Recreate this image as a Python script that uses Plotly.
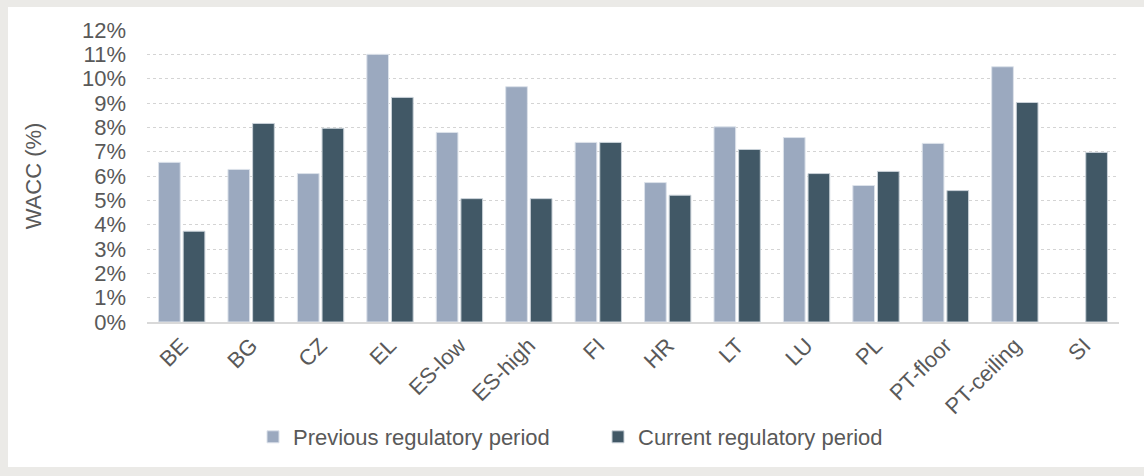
import plotly.graph_objects as go

categories = ["BE", "BG", "CZ", "EL", "ES-low", "ES-high", "FI", "HR", "LT", "LU",
              "PL", "PT-floor", "PT-ceiling", "SI"]
previous = [6.56, 6.27, 6.10, 11.00, 7.79, 9.67, 7.38, 5.73, 8.02, 7.58, 5.61, 7.34, 10.49, None]
current = [3.73, 8.16, 7.96, 9.23, 5.07, 5.07, 7.38, 5.21, 7.09, 6.10, 6.19, 5.40, 9.02, 6.97]
series_names = ["Previous regulatory period", "Current regulatory period"]
y_ticks = list(range(0, 13))

FONT = "Liberation Sans"
TXT = "#595959"
FS = 22

W, H = 1144, 476
L, R, T, B = 147, 25, 30, 154
pw, ph = W - L - R, H - T - B

def px_x(v):
    return (v - L) / pw

def px_y(v):
    return (H - B - v) / ph

fig = go.Figure()
fig.add_trace(go.Bar(x=categories, y=previous, name=series_names[0],
                     marker=dict(color="#9BA9BF", line=dict(color="#DCE2EA", width=1))))
fig.add_trace(go.Bar(x=categories, y=current, name=series_names[1],
                     marker=dict(color="#415866", line=dict(color="#C9D1D8", width=1))))

fig.update_layout(
    width=W, height=H,
    margin=dict(l=L, r=R, t=T, b=B, pad=0, autoexpand=False),
    paper_bgcolor="#EBEAE7",
    plot_bgcolor="white",
    barmode="group", bargap=0.29, bargroupgap=0.12,
    font=dict(family=FONT, size=FS, color=TXT),
    showlegend=True,
    legend=dict(orientation="h", x=px_x(598), xanchor="center", y=px_y(437), yanchor="middle",
                font=dict(family=FONT, size=FS, color=TXT), bgcolor="rgba(0,0,0,0)",
                itemwidth=30, entrywidth=300),
    shapes=[dict(type="rect", xref="paper", yref="paper", layer="below",
                 x0=px_x(8), x1=px_x(1150), y0=px_y(467), y1=px_y(7),
                 fillcolor="white", line=dict(width=0))],
)
fig.update_yaxes(range=[0, 12], tickvals=y_ticks, ticktext=[f"{t}%" for t in y_ticks],
                 showgrid=True, gridcolor="#D4D4D4", griddash="dot", gridwidth=1,
                 zeroline=False, ticks="", ticklabelstandoff=20,
                 tickfont=dict(family=FONT, size=FS, color=TXT),
                 title=dict(text="WACC (%)", font=dict(family=FONT, size=FS, color=TXT), standoff=34))
fig.update_xaxes(tickangle=-45, showline=True, linecolor="#D9D9D9", linewidth=2,
                 tickfont=dict(family=FONT, size=FS, color=TXT), ticks="")

fig.write_html("out.html", config={"displayModeBar": False},
               post_script="document.body.style.margin='0';document.body.style.padding='0';")
